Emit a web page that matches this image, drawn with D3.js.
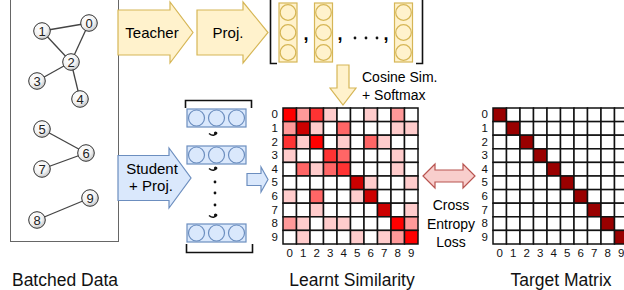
<!DOCTYPE html>
<html>
<head>
<meta charset="utf-8">
<script src="https://cdn.jsdelivr.net/npm/d3@7"></script>
<style>
  body { margin: 0; background: #fff; }
  svg { display: block; font-family: "Liberation Sans", Arial, sans-serif; }
</style>
</head>
<body>
<div id="chart"></div>
<script>
// ---- data ----
const nodeIds = [0, 1, 2, 3, 4, 5, 6, 7, 8, 9];
const edges = [[1, 0], [0, 2], [1, 2], [2, 3], [2, 4], [5, 6], [6, 7], [8, 9]];
const matrixLabels = ['0', '1', '2', '3', '4', '5', '6', '7', '8', '9'];
// similarity intensity level per cell (0 = white ... 6 = dark red)
const learnt = [
  [5, 2, 4, 1, 0, 0, 1, 0, 2, 0],
  [2, 6, 1, 0, 3, 0, 0, 0, 1, 1],
  [4, 1, 5, 0, 1, 0, 3, 1, 0, 0],
  [1, 0, 0, 4, 3, 0, 0, 0, 1, 0],
  [0, 3, 1, 3, 4, 0, 0, 0, 1, 0],
  [0, 0, 0, 0, 0, 6, 1, 0, 0, 1],
  [1, 0, 3, 0, 0, 1, 6, 0, 0, 0],
  [0, 0, 1, 0, 0, 0, 0, 6, 0, 1],
  [2, 1, 0, 1, 1, 0, 0, 0, 5, 2],
  [0, 1, 0, 0, 0, 1, 0, 1, 2, 5]
];
const captions = ['Batched Data', 'Learnt Similarity', 'Target Matrix'];

// ---- layout ----
const W = 624, H = 290;
const font = '"Liberation Sans", Arial, sans-serif';
const yellow = {fill: '#fff2cc', stroke: '#d6b656'};
const blue = {fill: '#dae8fc', stroke: '#6c8ebf'};
const red = {fill: '#f8cecc', stroke: '#b85450'};

const svg = d3.select('#chart').append('svg')
  .attr('width', W).attr('height', H);
svg.append('rect').attr('width', W).attr('height', H).attr('fill', '#fff');

const defs = svg.append('defs');
const grad = defs.append('radialGradient').attr('id', 'nodeGrad')
  .attr('cx', '40%').attr('cy', '35%').attr('r', '70%');
grad.append('stop').attr('offset', '0%').attr('stop-color', '#ffffff');
grad.append('stop').attr('offset', '60%').attr('stop-color', '#f2f2f2');
grad.append('stop').attr('offset', '100%').attr('stop-color', '#bdbdbd');

// block arrow helper (horizontal or vertical)
function blockArrow(g, x0, x1, c, body, head, headLen, st, dir) {
  const xh = x1 - headLen;
  let pts = [[x0, c - body / 2], [xh, c - body / 2], [xh, c - head / 2], [x1, c],
             [xh, c + head / 2], [xh, c + body / 2], [x0, c + body / 2]];
  if (dir === 'v') pts = pts.map(p => [p[1], p[0]]);
  g.append('path')
    .attr('d', d3.line()(pts) + 'Z')
    .attr('fill', st.fill).attr('stroke', st.stroke).attr('stroke-width', 1.2);
}

// ---- batched data box with graphs ----
svg.append('rect').attr('x', 10.5).attr('y', -2).attr('width', 108).attr('height', 243.5)
  .attr('fill', 'none').attr('stroke', '#666').attr('stroke-width', 1);

const nodeLayout = {0: [89, 23], 1: [42, 31], 2: [71, 62], 3: [37, 81], 4: [80, 99],
                    5: [42, 129], 6: [86, 153], 7: [42, 169], 8: [37, 220], 9: [90, 198]};
const gx = d3.scaleLinear().domain([0, 1]).range([0, 1]);
const gy = d3.scaleLinear().domain([0, 1]).range([0, 1]);
const nodes = nodeIds.map(id => ({id, x: gx(nodeLayout[id][0]), y: gy(nodeLayout[id][1])}));

svg.append('g').selectAll('line').data(edges).join('line')
  .attr('x1', d => nodes[d[0]].x).attr('y1', d => nodes[d[0]].y)
  .attr('x2', d => nodes[d[1]].x).attr('y2', d => nodes[d[1]].y)
  .attr('stroke', '#444').attr('stroke-width', 1.3);

const ng = svg.append('g').selectAll('g').data(nodes).join('g')
  .attr('transform', d => `translate(${d.x},${d.y})`);
ng.append('circle').attr('r', 8.3).attr('fill', 'url(#nodeGrad)')
  .attr('stroke', '#333').attr('stroke-width', 1);
ng.append('text').attr('text-anchor', 'middle').attr('dy', '0.36em')
  .attr('font-size', 13).attr('fill', '#222').text(d => d.id);

// ---- teacher branch ----
const arrows = svg.append('g');
blockArrow(arrows, 118, 193, 32.5, 45, 61, 23, yellow, 'h');
blockArrow(arrows, 197, 268, 32.5, 45, 61, 25, yellow, 'h');
arrows.append('text').attr('x', 152).attr('y', 32.5).attr('dy', '0.35em')
  .attr('text-anchor', 'middle').attr('font-size', 15).text('Teacher');
arrows.append('text').attr('x', 228).attr('y', 32.5).attr('dy', '0.35em')
  .attr('text-anchor', 'middle').attr('font-size', 15).text('Proj.');

// teacher vectors in brackets
const tv = svg.append('g');
tv.append('path').attr('d', 'M277,63.5 L270.5,63.5 L270.5,-3')
  .attr('fill', 'none').attr('stroke', '#111').attr('stroke-width', 1.6);
tv.append('path').attr('d', 'M416,63.5 L422.5,63.5 L422.5,-3')
  .attr('fill', 'none').attr('stroke', '#111').attr('stroke-width', 1.6);
[288, 323.5, 403.5].forEach(cx => {
  tv.append('rect').attr('x', cx - 9).attr('y', 3).attr('width', 18).attr('height', 59)
    .attr('fill', yellow.fill).attr('stroke', yellow.stroke).attr('stroke-width', 1.2);
  [12.5, 32.5, 52.5].forEach(cy => {
    tv.append('circle').attr('cx', cx).attr('cy', cy).attr('r', 7.8)
      .attr('fill', yellow.fill).attr('stroke', yellow.stroke).attr('stroke-width', 1.2);
  });
});
[306, 340, 386].forEach(x => {
  tv.append('text').attr('x', x).attr('y', 40).attr('text-anchor', 'middle')
    .attr('font-size', 18).attr('font-weight', 'bold').text(',');
});
[355, 366, 377].forEach(x => {
  tv.append('circle').attr('cx', x).attr('cy', 38).attr('r', 1.4).attr('fill', '#111');
});

// cosine sim arrow
blockArrow(arrows, 65, 105, 343, 12, 26, 17, yellow, 'v');
arrows.append('text').attr('x', 362).attr('y', 82).attr('font-size', 14).text('Cosine Sim.');
arrows.append('text').attr('x', 362).attr('y', 100).attr('font-size', 14).text('+ Softmax');

// ---- student branch ----
blockArrow(arrows, 118, 191, 178, 45, 60, 22, blue, 'h');
arrows.append('text').attr('x', 152).attr('y', 174).attr('text-anchor', 'middle')
  .attr('font-size', 15).text('Student');
arrows.append('text').attr('x', 151).attr('y', 191).attr('text-anchor', 'middle')
  .attr('font-size', 15).text('+ Proj.');

const sv = svg.append('g');
sv.append('path').attr('d', 'M185.5,108 L185.5,100.5 L251.5,100.5 L251.5,108')
  .attr('fill', 'none').attr('stroke', '#111').attr('stroke-width', 1.6);
sv.append('path').attr('d', 'M186.5,244 L186.5,252.5 L252.5,252.5 L252.5,244')
  .attr('fill', 'none').attr('stroke', '#111').attr('stroke-width', 1.6);
[109, 146, 224].forEach(y => {
  sv.append('rect').attr('x', 187).attr('y', y).attr('width', 59).attr('height', 18)
    .attr('fill', blue.fill).attr('stroke', blue.stroke).attr('stroke-width', 1.2);
  [196.5, 216.5, 236.5].forEach(cx => {
    sv.append('circle').attr('cx', cx).attr('cy', y + 9).attr('r', 8)
      .attr('fill', blue.fill).attr('stroke', blue.stroke).attr('stroke-width', 1.2);
  });
});
// rotated commas between student vectors
[135, 170, 217].forEach(y => {
  sv.append('path')
    .attr('d', `M209,${y - 1.5} Q214,${y + 2.5} 217,${y - 2.5}`)
    .attr('fill', 'none').attr('stroke', '#111').attr('stroke-width', 1.6);
  sv.append('circle').attr('cx', 215.5).attr('cy', y - 2).attr('r', 1.6).attr('fill', '#111');
});
[182, 193, 205].forEach(y => {
  sv.append('circle').attr('cx', 215).attr('cy', y).attr('r', 1.4).attr('fill', '#111');
});

blockArrow(arrows, 247, 268, 179.5, 12, 25, 7, blue, 'h');

// ---- matrices ----
const levelColor = d3.scaleOrdinal()
  .domain([0, 1, 2, 3, 4, 5, 6])
  .range(['#ffffff', '#ffcccc', '#ff9999', '#ff6666', '#ff3333', '#ff0000', '#cc0000']);

function drawMatrix(x0, values, colorOf) {
  const x = d3.scaleBand().domain(matrixLabels).range([x0, x0 + 135]);
  const y = d3.scaleBand().domain(matrixLabels).range([108, 244]);
  const g = svg.append('g');
  const cells = [];
  values.forEach((row, i) => row.forEach((v, j) => cells.push({i, j, v})));
  g.selectAll('rect').data(cells).join('rect')
    .attr('x', d => x(matrixLabels[d.j])).attr('y', d => y(matrixLabels[d.i]))
    .attr('width', x.bandwidth()).attr('height', y.bandwidth())
    .attr('fill', d => colorOf(d.v))
    .attr('stroke', '#111').attr('stroke-width', 1.5);
  const ax = g.append('g').attr('transform', `translate(${x0},0)`)
    .call(d3.axisLeft(y).tickSize(0).tickPadding(5));
  const bx = g.append('g').attr('transform', 'translate(0,244)')
    .call(d3.axisBottom(x).tickSize(0).tickPadding(5));
  [ax, bx].forEach(a => {
    a.select('.domain').remove();
    a.selectAll('text').attr('font-size', 11.5).attr('font-family', font).attr('fill', '#111');
  });
}
drawMatrix(283, learnt, v => levelColor(v));
const target = nodeIds.map(i => nodeIds.map(j => (i === j ? 1 : 0)));
drawMatrix(493, target, v => (v ? '#990000' : '#ffffff'));

// ---- cross entropy ----
const de = svg.append('g');
de.append('path')
  .attr('d', d3.line()([[423, 176], [435, 164], [435, 170], [463, 170], [463, 164], [475, 176],
                        [463, 188], [463, 182], [435, 182], [435, 188]]) + 'Z')
  .attr('fill', red.fill).attr('stroke', red.stroke).attr('stroke-width', 1.2);
['Cross', 'Entropy', 'Loss'].forEach((t, i) => {
  de.append('text').attr('x', 451).attr('y', 210 + i * 18.5).attr('text-anchor', 'middle')
    .attr('font-size', 14).text(t);
});

// ---- captions ----
[65, 352, 561].forEach((cx, i) => {
  svg.append('text').attr('x', cx).attr('y', 286).attr('text-anchor', 'middle')
    .attr('font-size', 17.5).attr('fill', '#111').text(captions[i]);
});
</script>
</body>
</html>
